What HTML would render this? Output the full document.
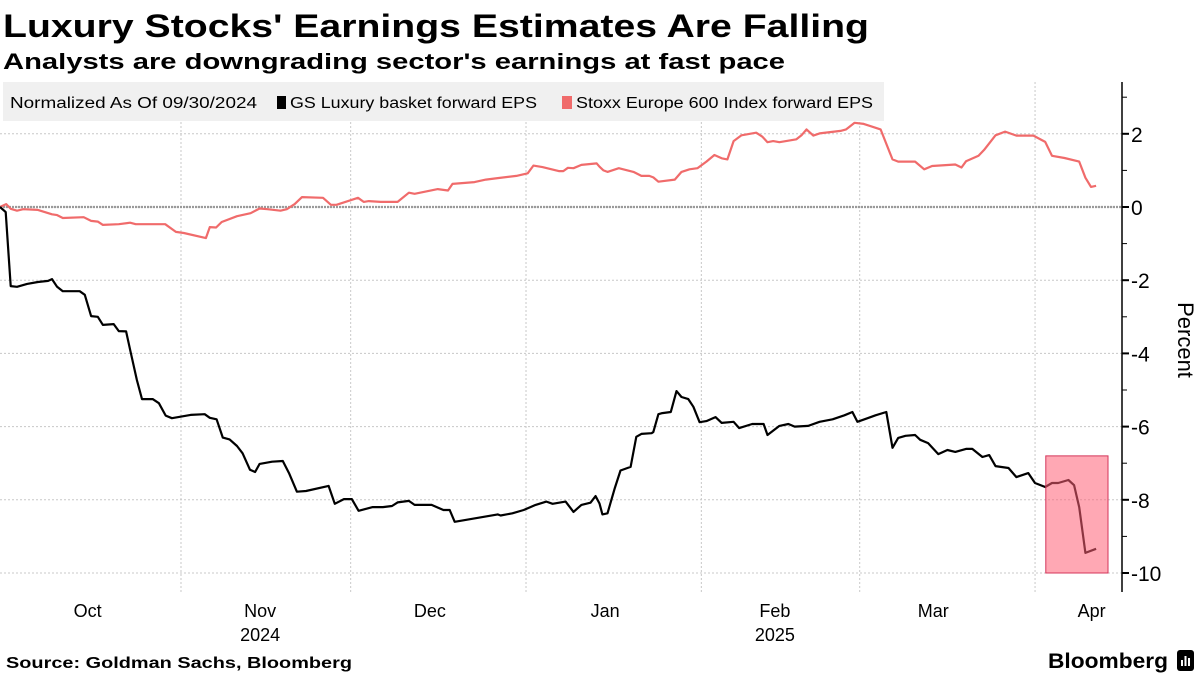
<!DOCTYPE html>
<html><head><meta charset="utf-8">
<style>
html,body{margin:0;padding:0;background:#fff;}
svg{display:block;font-family:"Liberation Sans",sans-serif;}
</style></head>
<body>
<svg id="chart" width="1200" height="675" viewBox="0 0 1200 675" xmlns="http://www.w3.org/2000/svg">
  <text x="3" y="37" font-size="32" font-weight="bold" textLength="866" lengthAdjust="spacingAndGlyphs">Luxury Stocks' Earnings Estimates Are Falling</text>
  <text x="3" y="69" font-size="22" font-weight="bold" textLength="782" lengthAdjust="spacingAndGlyphs">Analysts are downgrading sector's earnings at fast pace</text>
  <g id="grid"></g>
  <rect x="3" y="82" width="881" height="39" fill="#f0f0f0"/>
  <g font-size="15.5">
    <text x="10" y="108" textLength="247" lengthAdjust="spacingAndGlyphs">Normalized As Of 09/30/2024</text>
    <rect x="277" y="96" width="9" height="13" fill="#000"/>
    <text x="290" y="108" textLength="247" lengthAdjust="spacingAndGlyphs">GS Luxury basket forward EPS</text>
    <rect x="562" y="96" width="10" height="13" fill="#f06b6b"/>
    <text x="576" y="108" textLength="297" lengthAdjust="spacingAndGlyphs">Stoxx Europe 600 Index forward EPS</text>
  </g>
  <g id="marks"></g>
  <g id="axes"></g>
  <text transform="translate(1178,340) rotate(90)" font-size="22" text-anchor="middle">Percent</text>
  <text x="6" y="668" font-size="16" font-weight="bold" textLength="346" lengthAdjust="spacingAndGlyphs">Source: Goldman Sachs, Bloomberg</text>
  <text x="1048" y="668" font-size="21" font-weight="bold" textLength="120" lengthAdjust="spacingAndGlyphs">Bloomberg</text>
  <g>
    <rect x="1177" y="650" width="17" height="21" rx="3" fill="#000"/>
    <rect x="1181" y="660" width="2" height="6" fill="#fff"/>
    <rect x="1184.5" y="656" width="2" height="10" fill="#fff"/>
    <rect x="1188" y="658" width="2" height="8" fill="#fff"/>
  </g>
</svg>
<script>
const yTicks = [2, 0, -2, -4, -6, -8, -10];
const monthLabels = ["Oct", "Nov", "Dec", "Jan", "Feb", "Mar", "Apr"];
const monthMidDays = [15.5, 46, 76, 107, 137, 165, 193];
const monthStartDays = [32, 62, 93, 124, 152, 183];
const yearLabels = ["2024", "2025"];
const yearDays = [46, 137];
const highlightDays = [184.9, 195.9];
const highlightValues = [-6.8, -10];
const luxuryData = [[0,0],[1,-0.14],[1.9,-2.16],[3,-2.18],[4.8,-2.1],[6.7,-2.05],[8.5,-2.02],[9.2,-1.97],[10.1,-2.18],[11.1,-2.3],[14.1,-2.3],[15,-2.4],[16.1,-2.98],[17.3,-3.0],[18.2,-3.22],[20.1,-3.2],[21,-3.39],[22.3,-3.4],[23,-3.9],[24.2,-4.73],[25.1,-5.25],[27,-5.25],[28.1,-5.36],[29.3,-5.7],[30.4,-5.77],[33.7,-5.68],[36.2,-5.66],[37.1,-5.76],[38.3,-5.8],[39.4,-6.3],[40.6,-6.35],[41.9,-6.53],[42.9,-6.73],[44.2,-7.18],[45.1,-7.24],[45.9,-7.02],[48.1,-6.96],[50,-6.94],[51.1,-7.27],[52.5,-7.78],[54.1,-7.76],[58.1,-7.62],[59.2,-8.11],[60.8,-7.98],[62.2,-7.98],[63.4,-8.3],[65.9,-8.2],[67.7,-8.2],[69.3,-8.17],[70.3,-8.07],[72.3,-8.03],[73.3,-8.14],[76.3,-8.14],[78.4,-8.28],[79.5,-8.28],[80.4,-8.6],[88,-8.4],[88.5,-8.43],[90.6,-8.37],[92.6,-8.28],[94.7,-8.14],[96.6,-8.05],[97.7,-8.11],[100,-8.05],[101.4,-8.33],[102.8,-8.14],[104.4,-8.08],[105.3,-7.9],[106,-8.1],[106.5,-8.4],[107.4,-8.37],[108.7,-7.68],[109.7,-7.2],[111.5,-7.1],[112.5,-6.28],[113.4,-6.2],[115.2,-6.18],[115.5,-6.15],[116.4,-5.66],[117.1,-5.63],[118.6,-5.6],[119.6,-5.03],[120.5,-5.19],[121.7,-5.25],[122.6,-5.46],[123.7,-5.88],[124.9,-5.85],[126.5,-5.74],[127.6,-5.9],[129.7,-5.87],[130.7,-6.04],[133,-5.93],[135,-5.93],[135.7,-6.23],[137.8,-5.98],[139.4,-5.93],[140.5,-6.0],[142.9,-5.98],[144.9,-5.87],[147.2,-5.8],[149.3,-5.69],[150.7,-5.6],[151.6,-5.87],[153.4,-5.77],[154.8,-5.69],[156.7,-5.6],[157.8,-6.58],[158.8,-6.31],[160.1,-6.25],[161.8,-6.23],[162.7,-6.36],[164.1,-6.45],[165.9,-6.75],[167.5,-6.64],[168.9,-6.69],[170.8,-6.61],[171.9,-6.61],[173.7,-6.83],[174.9,-6.78],[176,-7.08],[178.3,-7.13],[179.7,-7.38],[181.8,-7.27],[183,-7.54],[184.8,-7.65],[186,-7.54],[187.1,-7.54],[188.9,-7.46],[189.9,-7.6],[190.8,-8.2],[191.9,-9.45],[193.8,-9.34]];
const stoxxData = [[0,0],[1.1,0.08],[1.9,-0.05],[3,-0.1],[4.1,-0.06],[6.7,-0.08],[9.2,-0.2],[10.1,-0.22],[11.1,-0.3],[14.8,-0.28],[16.1,-0.38],[17.3,-0.4],[18.2,-0.49],[21,-0.47],[23,-0.43],[24,-0.47],[29.2,-0.47],[31.1,-0.68],[32.5,-0.71],[36.4,-0.85],[37.1,-0.55],[38.2,-0.56],[39.2,-0.41],[41.9,-0.25],[44.3,-0.17],[45.9,-0.04],[47.3,-0.06],[49.6,-0.1],[50.7,-0.06],[52.1,0.08],[53.4,0.27],[57.1,0.25],[58.5,0.06],[59.5,0.06],[63.3,0.25],[64.3,0.14],[65.2,0.16],[67.3,0.14],[70.3,0.14],[72.3,0.39],[73.3,0.36],[77.4,0.49],[79.2,0.45],[80,0.63],[83.9,0.68],[85.9,0.75],[88,0.79],[91.3,0.85],[93.3,0.92],[94.3,1.13],[95.9,1.09],[98.8,0.98],[99.6,0.98],[100.4,1.07],[101.4,1.06],[102.8,1.15],[105.5,1.19],[106,1.1],[106.7,1.0],[107.4,0.96],[109.4,1.06],[112,0.96],[113.4,0.85],[114.8,0.85],[115.5,0.81],[116.4,0.69],[119.3,0.75],[120.5,0.96],[121.9,1.03],[123.3,1.06],[124.9,1.24],[126.3,1.42],[127.6,1.33],[128.6,1.3],[129.7,1.8],[131.1,1.96],[133.7,2.03],[134.8,1.92],[135.7,1.77],[136.7,1.8],[137.8,1.77],[140.8,1.85],[141.7,1.96],[142.6,2.12],[143.8,1.95],[144.9,2.01],[148.6,2.08],[149.6,2.12],[151.1,2.3],[152.7,2.27],[155.7,2.12],[157.8,1.3],[158.8,1.24],[161.8,1.24],[163.4,1.03],[164.8,1.12],[168.9,1.16],[170,1.08],[170.8,1.25],[173,1.4],[174,1.56],[176,1.96],[177.7,2.06],[179.7,1.95],[182.7,1.95],[184.8,1.78],[186,1.4],[188.2,1.34],[190.8,1.24],[191.9,0.8],[192.9,0.55],[193.8,0.58]];

const NS = "http://www.w3.org/2000/svg";
const PLOT_LEFT = 0, PLOT_RIGHT = 1122, PLOT_TOP = 82, PLOT_BOTTOM = 592;
const DAY_PX = 5.656;
function xScale(d){ return PLOT_LEFT + d * DAY_PX; }
function yScale(v){ return 207 - v * 36.6; }
function mk(tag, attrs, parent){
  const el = document.createElementNS(NS, tag);
  for (const k in attrs) el.setAttribute(k, attrs[k]);
  parent.appendChild(el);
  return el;
}
const grid = document.getElementById('grid');
const marks = document.getElementById('marks');
const axes = document.getElementById('axes');

yTicks.forEach(function(t){
  const y = yScale(t);
  const g = mk('line', {x1:PLOT_LEFT, x2:PLOT_RIGHT, y1:y, y2:y, stroke:'#c8c8c8', 'stroke-width':1, 'stroke-dasharray':'2,2'}, grid);
  
  
});
monthStartDays.forEach(function(d){
  const x = xScale(d);
  const g = mk('line', {x1:x, x2:x, y1:PLOT_TOP, y2:PLOT_BOTTOM, stroke:'#c8c8c8', 'stroke-width':1, 'stroke-dasharray':'2,2'}, grid);
  
  
});
const zl = mk('line', {x1:PLOT_LEFT, x2:PLOT_RIGHT, y1:yScale(0), y2:yScale(0), stroke:'#9a9a9a', 'stroke-width':2.2, 'stroke-dasharray':'2,1'}, grid);



function linePath(data){
  return data.map(function(p, i){ return (i ? 'L' : 'M') + xScale(p[0]).toFixed(1) + ',' + yScale(p[1]).toFixed(1); }).join(' ');
}
const sl = mk('path', {d:linePath(stoxxData), fill:'none', stroke:'#f06b6b', 'stroke-width':2.2, 'stroke-linejoin':'round'}, marks);


const ll = mk('path', {d:linePath(luxuryData), fill:'none', stroke:'#000', 'stroke-width':2.2, 'stroke-linejoin':'round'}, marks);



const hl = mk('rect', {x:xScale(highlightDays[0]), y:yScale(highlightValues[0]), width:xScale(highlightDays[1]) - xScale(highlightDays[0]), height:yScale(highlightValues[1]) - yScale(highlightValues[0]), fill:'#ff6076', 'fill-opacity':0.55, stroke:'#d4355a', 'stroke-width':1}, marks);



const ax = mk('line', {x1:PLOT_RIGHT, x2:PLOT_RIGHT, y1:PLOT_TOP, y2:PLOT_BOTTOM, stroke:'#000', 'stroke-width':1.5}, axes);


for (let v = 3; v >= -10; v--) {
  const y = yScale(v);
  const major = v % 2 === 0;
  const tk = mk('line', {x1:PLOT_RIGHT, x2:PLOT_RIGHT + (major ? 7 : 5), y1:y, y2:y, stroke:'#000', 'stroke-width': major ? 2 : 1}, axes);
  
  
}
yTicks.forEach(function(t){
  const tx = mk('text', {x:PLOT_RIGHT + 9, y:yScale(t) + 8, 'font-size':21}, axes);
  tx.textContent = t;
  
  
});
monthLabels.forEach(function(m, i){
  const tx = mk('text', {x:xScale(monthMidDays[i]), y:617, 'font-size':18, 'text-anchor':'middle'}, axes);
  tx.textContent = m;
  
  
});
yearLabels.forEach(function(yl, i){
  const tx = mk('text', {x:xScale(yearDays[i]), y:641, 'font-size':18, 'text-anchor':'middle'}, axes);
  tx.textContent = yl;
  
  
});
</script>
</body></html>
